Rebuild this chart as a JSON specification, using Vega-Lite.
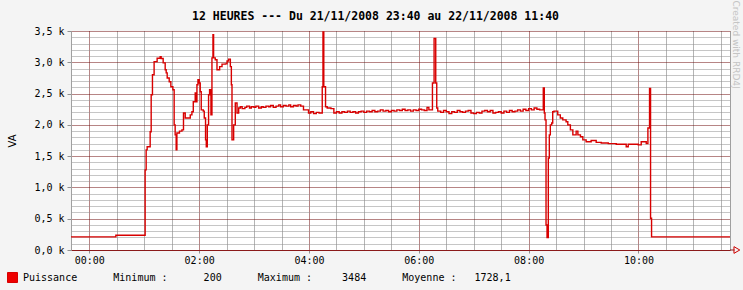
{
  "$schema": "https://vega.github.io/schema/vega-lite/v6.json",
  "width": 659,
  "height": 219,
  "autosize": {"type": "none"},
  "padding": {"left": 71, "top": 31, "right": 13, "bottom": 40},
  "background": "#F4F4F4",
  "config": {"view": {"fill": "#FFFFFF", "stroke": null}, "font": "DejaVu Sans Mono"},
  "title": {"text": "12 HEURES --- Du 21/11/2008 23:40 au 22/11/2008 11:40", "font": "DejaVu Sans Mono", "fontSize": 11.5, "fontWeight": "bold", "color": "#000000", "dx": -25, "dy": 31, "offset": 9},
  "data": {"values": [
    {"t": -20, "v": 210}, {"t": 29, "v": 235}, {"t": 61, "v": 1280}, {"t": 62.1, "v": 1600}, {"t": 63.2, "v": 1650},
    {"t": 66.5, "v": 1890}, {"t": 67.6, "v": 2480}, {"t": 69, "v": 2800}, {"t": 70.8, "v": 3010}, {"t": 74.1, "v": 3065},
    {"t": 77.4, "v": 3090}, {"t": 78.5, "v": 3060}, {"t": 80.7, "v": 2990}, {"t": 82.9, "v": 2880}, {"t": 84, "v": 2830},
    {"t": 85.1, "v": 2750}, {"t": 87.3, "v": 2690}, {"t": 89.1, "v": 2610}, {"t": 91.3, "v": 2560}, {"t": 92.7, "v": 2000},
    {"t": 93.8, "v": 1840}, {"t": 94.9, "v": 1600}, {"t": 95.7, "v": 1870}, {"t": 98.5, "v": 1900}, {"t": 101.2, "v": 1920},
    {"t": 102.9, "v": 2190}, {"t": 104.8, "v": 2110}, {"t": 110.3, "v": 2160}, {"t": 112.1, "v": 2210}, {"t": 113.6, "v": 2370},
    {"t": 115.7, "v": 2510}, {"t": 116.8, "v": 2370}, {"t": 117.6, "v": 2640}, {"t": 118.7, "v": 2720}, {"t": 120.1, "v": 2670},
    {"t": 121.2, "v": 2530}, {"t": 122.3, "v": 2240}, {"t": 124.5, "v": 2220}, {"t": 125.6, "v": 2110}, {"t": 127, "v": 1760},
    {"t": 127.8, "v": 1650}, {"t": 128.9, "v": 2000}, {"t": 130.3, "v": 2480}, {"t": 131.4, "v": 2560}, {"t": 132.9, "v": 2160},
    {"t": 134, "v": 3070}, {"t": 135.1, "v": 3440}, {"t": 135.8, "v": 3070}, {"t": 137.6, "v": 3040}, {"t": 139.5, "v": 2880},
    {"t": 142.4, "v": 2930}, {"t": 145, "v": 2970}, {"t": 148.6, "v": 2975}, {"t": 150.5, "v": 3020}, {"t": 152.2, "v": 3050},
    {"t": 154.1, "v": 2930}, {"t": 155.2, "v": 2640}, {"t": 155.9, "v": 1760}, {"t": 157.7, "v": 2000}, {"t": 159.5, "v": 2350},
    {"t": 161.4, "v": 2190}, {"t": 163.2, "v": 2270}, {"t": 165, "v": 2290}, {"t": 167, "v": 2260}, {"t": 170, "v": 2280},
    {"t": 172, "v": 2300}, {"t": 175, "v": 2270}, {"t": 177, "v": 2290}, {"t": 180, "v": 2280}, {"t": 182, "v": 2300},
    {"t": 185, "v": 2270}, {"t": 188, "v": 2290}, {"t": 190, "v": 2280}, {"t": 193, "v": 2300}, {"t": 196, "v": 2290},
    {"t": 198, "v": 2310}, {"t": 201, "v": 2280}, {"t": 204, "v": 2300}, {"t": 207, "v": 2320}, {"t": 209, "v": 2290},
    {"t": 212, "v": 2310}, {"t": 215, "v": 2300}, {"t": 218, "v": 2320}, {"t": 220, "v": 2290}, {"t": 223, "v": 2310},
    {"t": 226, "v": 2300}, {"t": 228, "v": 2320}, {"t": 231, "v": 2300}, {"t": 234, "v": 2240}, {"t": 239.5, "v": 2190},
    {"t": 242, "v": 2210}, {"t": 245, "v": 2180}, {"t": 248, "v": 2200}, {"t": 251, "v": 2190}, {"t": 254.5, "v": 2610},
    {"t": 255.3, "v": 3484}, {"t": 256.2, "v": 2610}, {"t": 258.1, "v": 2290}, {"t": 259.9, "v": 2270}, {"t": 264, "v": 2260},
    {"t": 267.2, "v": 2190}, {"t": 270, "v": 2210}, {"t": 273, "v": 2190}, {"t": 276, "v": 2210}, {"t": 279, "v": 2200},
    {"t": 282, "v": 2220}, {"t": 285, "v": 2200}, {"t": 288, "v": 2210}, {"t": 291, "v": 2190}, {"t": 294, "v": 2210},
    {"t": 297, "v": 2220}, {"t": 300, "v": 2200}, {"t": 303, "v": 2220}, {"t": 306, "v": 2210}, {"t": 309, "v": 2230},
    {"t": 312, "v": 2210}, {"t": 315, "v": 2220}, {"t": 318, "v": 2240}, {"t": 321, "v": 2220}, {"t": 324, "v": 2230},
    {"t": 327, "v": 2210}, {"t": 330, "v": 2230}, {"t": 333, "v": 2220}, {"t": 336, "v": 2240}, {"t": 339, "v": 2230},
    {"t": 342, "v": 2250}, {"t": 345, "v": 2230}, {"t": 348, "v": 2240}, {"t": 351, "v": 2220}, {"t": 354, "v": 2240},
    {"t": 357, "v": 2230}, {"t": 360, "v": 2250}, {"t": 363, "v": 2240}, {"t": 366, "v": 2230}, {"t": 369, "v": 2280},
    {"t": 371, "v": 2240}, {"t": 374.9, "v": 2670}, {"t": 376.7, "v": 3380}, {"t": 378.5, "v": 2670}, {"t": 379.6, "v": 2270},
    {"t": 380.7, "v": 2220}, {"t": 384, "v": 2200}, {"t": 387, "v": 2230}, {"t": 390, "v": 2210}, {"t": 393, "v": 2180},
    {"t": 396, "v": 2210}, {"t": 399, "v": 2200}, {"t": 402, "v": 2230}, {"t": 405, "v": 2210}, {"t": 408, "v": 2200},
    {"t": 411, "v": 2220}, {"t": 414, "v": 2230}, {"t": 417, "v": 2190}, {"t": 420, "v": 2180}, {"t": 423, "v": 2200},
    {"t": 426, "v": 2190}, {"t": 429, "v": 2220}, {"t": 432, "v": 2230}, {"t": 435, "v": 2210}, {"t": 438, "v": 2230},
    {"t": 441, "v": 2190}, {"t": 444, "v": 2200}, {"t": 447, "v": 2210}, {"t": 450, "v": 2190}, {"t": 453, "v": 2220},
    {"t": 456, "v": 2200}, {"t": 459, "v": 2230}, {"t": 462, "v": 2210}, {"t": 465, "v": 2220}, {"t": 468, "v": 2240},
    {"t": 471, "v": 2220}, {"t": 474, "v": 2250}, {"t": 477, "v": 2230}, {"t": 480, "v": 2260}, {"t": 483, "v": 2240},
    {"t": 486, "v": 2270}, {"t": 489, "v": 2250}, {"t": 492, "v": 2240}, {"t": 496, "v": 2590}, {"t": 497.1, "v": 2190},
    {"t": 497.9, "v": 2080}, {"t": 499, "v": 400}, {"t": 500.1, "v": 200}, {"t": 501.5, "v": 1470}, {"t": 502.6, "v": 1840},
    {"t": 503.7, "v": 2000}, {"t": 505.2, "v": 2030}, {"t": 506.3, "v": 2210}, {"t": 507.7, "v": 2220}, {"t": 511.8, "v": 2160},
    {"t": 514.6, "v": 2110}, {"t": 517.3, "v": 2080}, {"t": 520.9, "v": 2050}, {"t": 522.8, "v": 2000}, {"t": 525.6, "v": 1920},
    {"t": 528.3, "v": 1840}, {"t": 531.9, "v": 1900}, {"t": 533.8, "v": 1840}, {"t": 536.6, "v": 1810}, {"t": 539.2, "v": 1760},
    {"t": 542.8, "v": 1730}, {"t": 548.3, "v": 1750}, {"t": 553.8, "v": 1720}, {"t": 559.3, "v": 1710}, {"t": 567, "v": 1700},
    {"t": 575.7, "v": 1690}, {"t": 586.6, "v": 1650}, {"t": 588.8, "v": 1690}, {"t": 599.7, "v": 1680}, {"t": 603, "v": 1730},
    {"t": 608.5, "v": 1700}, {"t": 610.3, "v": 1950}, {"t": 612.1, "v": 2580}, {"t": 613.2, "v": 507}, {"t": 614.3, "v": 210},
    {"t": 700, "v": 210}
  ]},
  "layer": [
    {
      "mark": {"type": "line", "interpolate": "step-after", "strokeWidth": 1.4, "color": "#D80000"},
      "encoding": {
        "x": {
          "field": "t", "type": "quantitative",
          "scale": {"domain": [-20, 700], "nice": false, "zero": false},
          "axis": {
            "title": null,
            "values": [0, 30, 60, 90, 120, 150, 180, 210, 240, 270, 300, 330, 360, 390, 420, 450, 480, 510, 540, 570, 600, 630, 660, 690],
            "labelExpr": "datum.value % 120 === 0 ? (datum.value < 600 ? '0' : '') + (datum.value / 60) + ':00' : ''",
            "labelFont": "DejaVu Sans Mono", "labelFontSize": 10, "labelColor": "#000000", "labelPadding": 2,
            "labelOverlap": false, "labelFlush": false, "labelBound": false,
            "grid": true, "gridDash": [1, 1], "gridOpacity": 1, "gridWidth": 1,
            "gridColor": {"condition": {"test": "datum.value % 120 === 0", "value": "#6E0A0A"}, "value": "#6A6A6A"},
            "tickSize": 3,
            "tickColor": {"condition": {"test": "datum.value % 120 === 0", "value": "#909090"}, "value": "transparent"},
            "domainColor": "#8B1A1A", "domainWidth": 1
          }
        },
        "y": {
          "field": "v", "type": "quantitative",
          "scale": {"domain": [0, 3500], "nice": false},
          "axis": {
            "title": "VA", "titleFont": "DejaVu Sans", "titleFontSize": 10, "titleFontWeight": "normal", "titleColor": "#000000",
            "titleX": -59, "titleY": 109.5, "titleBaseline": "middle", "titleAlign": "center",
            "values": [0, 100, 200, 300, 400, 500, 600, 700, 800, 900, 1000, 1100, 1200, 1300, 1400, 1500, 1600, 1700, 1800, 1900, 2000, 2100, 2200, 2300, 2400, 2500, 2600, 2700, 2800, 2900, 3000, 3100, 3200, 3300, 3400, 3500],
            "labelExpr": "datum.value % 500 === 0 ? replace(format(datum.value / 1000, '.1f'), '.', ',') + ' k' : ''",
            "labelFont": "DejaVu Sans Mono", "labelFontSize": 10, "labelColor": "#000000", "labelPadding": 3,
            "labelOverlap": false, "labelBound": false, "labelFlush": false,
            "grid": true, "gridDash": [1, 1], "gridOpacity": 1,
            "gridColor": {"condition": {"test": "datum.value % 500 === 0", "value": "#6E0A0A"}, "value": "#8C8C8C"},
            "tickSize": 4,
            "tickColor": {"condition": {"test": "datum.value % 500 === 0", "value": "#909090"}, "value": "transparent"},
            "domainColor": "#A0A0A0"
          }
        },
        "color": {
          "datum": "Puissance", "type": "nominal",
          "scale": {"range": ["#D80000"]},
          "legend": {
            "title": null, "orient": "none", "legendX": -64, "legendY": 241, "padding": 0,
            "symbolType": "square", "symbolSize": 100, "symbolFillColor": "#EE0000", "symbolStrokeColor": "#5A0000", "symbolStrokeWidth": 1,
            "labelFont": "DejaVu Sans Mono", "labelFontSize": 10, "labelColor": "#000000", "labelOffset": 5, "labelLimit": 0,
            "labelExpr": "'Puissance\u00a0\u00a0\u00a0\u00a0\u00a0\u00a0Minimum\u00a0:\u00a0\u00a0\u00a0\u00a0\u00a0\u00a0200\u00a0\u00a0\u00a0\u00a0\u00a0\u00a0Maximum\u00a0:\u00a0\u00a0\u00a0\u00a0\u00a03484\u00a0\u00a0\u00a0\u00a0\u00a0\u00a0Moyenne\u00a0:\u00a0\u00a0\u00a01728,1'"
          }
        }
      }
    },
    {
      "mark": {"type": "point", "opacity": 0},
      "encoding": {
        "x": {"field": "t", "type": "quantitative", "axis": null},
        "y": {
          "field": "v", "type": "quantitative",
          "axis": {
            "orient": "right", "labels": false, "ticks": false, "grid": false, "domainColor": "#A0A0A0",
            "title": "Created with RRD4J", "titleFont": "DejaVu Sans", "titleFontSize": 9, "titleFontWeight": "normal", "titleColor": "#C4C4C4",
            "titleAngle": 90, "titleX": 5, "titleY": -31, "titleAlign": "left", "titleBaseline": "middle"
          }
        }
      }
    },
    {
      "data": {"values": [{"a": 1}]},
      "mark": {"type": "rule", "color": "#8B1A1A", "strokeWidth": 1},
      "encoding": {
        "x": {"datum": 700, "type": "quantitative", "axis": null},
        "x2": {"datum": 705},
        "y": {"datum": 0, "type": "quantitative", "axis": null}
      }
    },
    {
      "data": {"values": [{"a": 1}]},
      "mark": {"type": "point", "shape": "triangle-right", "filled": false, "color": "#CC0000", "size": 45, "strokeWidth": 1, "opacity": 1},
      "encoding": {
        "x": {"datum": 707.5, "type": "quantitative", "axis": null},
        "y": {"datum": 0, "type": "quantitative", "axis": null}
      }
    }
  ],
  "resolve": {"axis": {"x": "independent", "y": "independent"}}
}
